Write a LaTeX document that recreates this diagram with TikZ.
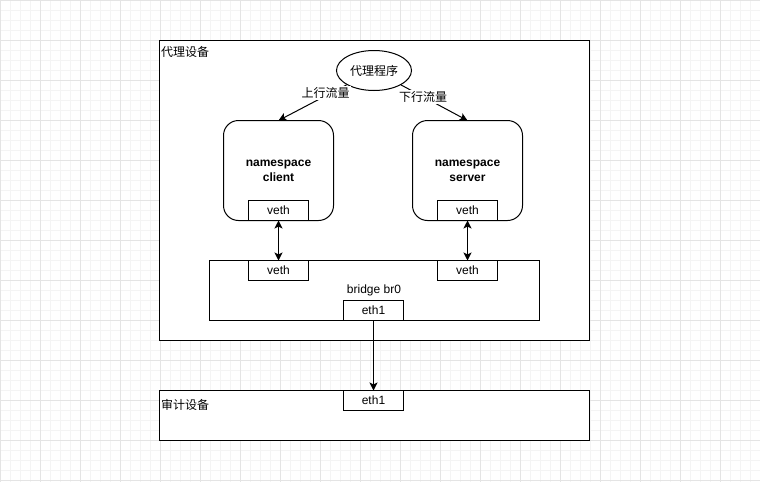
\documentclass[tikz,border=0pt]{standalone}
\usepackage{fontspec}
\setmainfont{Liberation Sans}
\newfontfamily\cjk{Noto Sans CJK SC}
\usetikzlibrary{arrows.meta,shapes.geometric}
\definecolor{minorc}{HTML}{F4F4F4}
\definecolor{majorc}{HTML}{E4E4E4}
\tikzset{
  box/.style={draw=black, line width=1pt, fill=white, inner sep=0pt, outer sep=0pt, rectangle},
  nsbox/.style={box, rounded corners=15pt, minimum width=110pt, minimum height=100pt},
  port/.style={box, minimum width=60pt, minimum height=20pt, font=\fontsize{12pt}{14pt}\selectfont},
  lbl/.style={inner sep=1pt, font=\fontsize{12pt}{14pt}\selectfont},
  tip/.style={Stealth[length=8pt,width=8pt,inset=2pt]},
  conn/.style={line width=1pt, -{Stealth[length=8pt,width=8pt,inset=2pt]}},
  dconn/.style={line width=1pt, {Stealth[length=8pt,width=8pt,inset=2pt]}-{Stealth[length=8pt,width=8pt,inset=2pt]}},
}
\begin{document}
\begin{tikzpicture}[x=1pt,y=-1pt]
\useasboundingbox (0,0) rectangle (760,482);
\fill[white] (0,0) rectangle (760,482);
% grid
\foreach \x in {0,10,...,760} \draw[minorc, line width=1pt] (\x,0) -- (\x,482);
\foreach \y in {0,10,...,480} \draw[minorc, line width=1pt] (0,\y) -- (760,\y);
\foreach \x in {0,40,...,760} \draw[majorc, line width=1pt] (\x,0) -- (\x,482);
\foreach \y in {0,40,...,480} \draw[majorc, line width=1pt] (0,\y) -- (760,\y);

% proxy device
\node[box, minimum width=430pt, minimum height=300pt] (proxy) at (374.5,190.5) {};
\node[lbl, anchor=west] (proxyt) at (160,52) {\cjk 代理设备};

% proxy program
\node[draw=black, line width=1pt, fill=white, ellipse, minimum width=75pt, minimum height=40pt, inner sep=0pt] (prog) at (374,70.5) {};
\node[lbl] (progt) at (374,70.5) {\cjk 代理程序};

% namespaces
\node[nsbox] (client) at (278.5,170.5) {};
\node[lbl, align=center, font=\fontsize{12pt}{15pt}\selectfont\bfseries] (clientt) at (278.5,170.5) {namespace\\client};
\node[nsbox] (server) at (467.5,170.5) {};
\node[lbl, align=center, font=\fontsize{12pt}{15pt}\selectfont\bfseries] (servert) at (467.5,170.5) {namespace\\server};
\node[port] (cveth) at (278.5,210.5) {veth};
\node[port] (sveth) at (467.5,210.5) {veth};

% bridge
\node[box, minimum width=330pt, minimum height=60pt] (bridge) at (374.5,290.5) {};
\node[port] (bcveth) at (278.5,270.5) {veth};
\node[port] (bsveth) at (467.5,270.5) {veth};
\node[lbl] (brt) at (374,290.5) {bridge br0};
\node[port] (beth) at (373.5,310.5) {eth1};

% audit device
\node[box, minimum width=430pt, minimum height=50pt] (audit) at (374.5,415.5) {};
\node[lbl, anchor=west] (auditt) at (160,405) {\cjk 审计设备};
\node[port] (aeth) at (373.5,400.5) {eth1};

% connectors
\draw[conn] (prog) -- (client.north);
\draw[conn] (prog) -- (server.north);
\node[lbl, fill=white] (up) at (325.5,93) {\cjk 上行流量};
\node[lbl, fill=white] (down) at (423,97) {\cjk 下行流量};
\draw[dconn] (cveth.south) -- (bcveth.north);
\draw[dconn] (sveth.south) -- (bsveth.north);
\draw[conn] (beth.south) -- (aeth.north);
\end{tikzpicture}
\end{document}
